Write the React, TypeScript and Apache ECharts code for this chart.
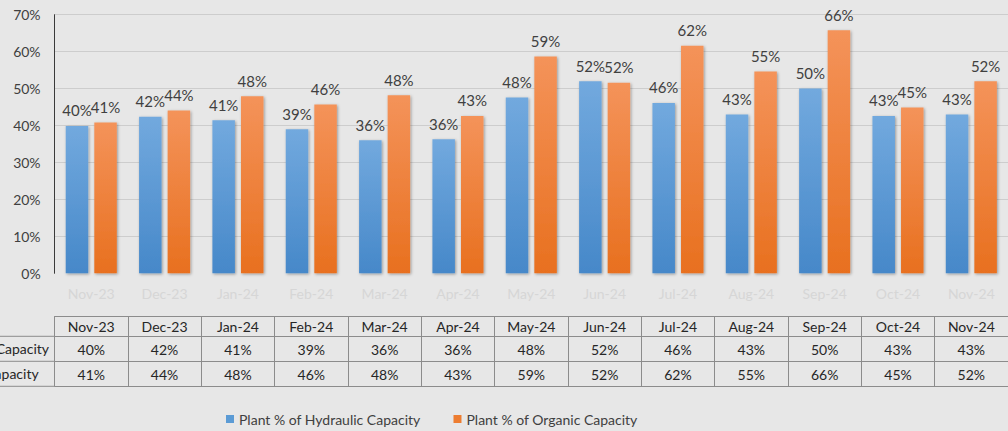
import React, { useEffect, useRef } from 'react';
import * as echarts from 'echarts';

const categories = ['Nov-23', 'Dec-23', 'Jan-24', 'Feb-24', 'Mar-24', 'Apr-24', 'May-24', 'Jun-24', 'Jul-24', 'Aug-24', 'Sep-24', 'Oct-24', 'Nov-24'];
const hydraulic = [39.9, 42.4, 41.4, 39.0, 36.0, 36.3, 47.6, 52.0, 46.1, 43.0, 50.0, 42.6, 43.0];
const organic = [40.8, 44.1, 47.9, 45.7, 48.2, 42.6, 58.7, 51.6, 61.6, 54.6, 65.8, 44.9, 52.0];
const seriesNames = ['Plant % of Hydraulic Capacity', 'Plant % of Organic Capacity'];
const yMin = 0;
const yMax = 70;
const yStep = 10;

const FONT = 'Lato, "Liberation Sans", sans-serif';
const GRID_LEFT = 54.6;
const GRID_TOP = 14.7;
const GRID_BOTTOM_Y = 273.3;
const GRID_W = 956.6;
const LINE = '#8c8c8c';

const pct = (v: number) => Math.round(v) + '%';

export default function App() {
  const ref = useRef<HTMLDivElement>(null);
  useEffect(() => {
    document.body.style.margin = '0';
    document.body.style.background = '#e7e7e7';
    const chart = echarts.init(ref.current!, null, { renderer: 'svg' });

    const tableAxis = (offset: number, tickLen: number, margin: number, values: number[] | null, showLabel = true, showTick = true) => ({
      type: 'category',
      data: categories,
      position: 'bottom',
      offset,
      gridIndex: 0,
      axisLine: { show: true, lineStyle: { color: LINE, width: 1 } },
      axisTick: { show: showTick, interval: 0, alignWithLabel: false, length: tickLen, lineStyle: { color: LINE, width: 1 } },
      axisLabel: {
        show: showLabel,
        interval: 0,
        margin,
        fontSize: 14,
        color: '#262626',
        fontFamily: FONT,
        formatter: (val: string, idx: number) => (values ? pct(values[idx]) : val),
      },
      splitLine: { show: false },
    });

    const measure = (t: string) => {
      const ctx = document.createElement('canvas').getContext('2d')!;
      ctx.font = `14px ${FONT}`;
      return ctx.measureText(t).width;
    };
    const w1 = measure(seriesNames[0]);
    const labelX = 49.3 - w1;

    const row1Y = GRID_BOTTOM_Y + 63;
    const row2Y = GRID_BOTTOM_Y + 88;
    const row3Y = GRID_BOTTOM_Y + 113;

    const grad = (top: string, bottom: string) =>
      new echarts.graphic.LinearGradient(0, 0, 0, 1, [
        { offset: 0, color: top },
        { offset: 1, color: bottom },
      ]);

    const barLabel = {
      show: true,
      position: 'top',
      distance: 8,
      fontSize: 15,
      color: '#404040',
      fontFamily: FONT,
      formatter: (p: any) => pct(p.value),
    };

    const option: any = {
      animation: false,
      backgroundColor: '#e7e7e7',
      textStyle: { fontFamily: FONT },
      grid: { left: GRID_LEFT, top: GRID_TOP, width: GRID_W, height: GRID_BOTTOM_Y - GRID_TOP },
      legend: {
        left: 221,
        top: 407,
        icon: 'rect',
        itemWidth: 8,
        itemHeight: 8,
        itemGap: 33,
        textStyle: { fontSize: 14, color: '#404040', fontFamily: FONT },
        data: [
          { name: seriesNames[0], itemStyle: { color: '#5b9bd5' } },
          { name: seriesNames[1], itemStyle: { color: '#ed7d31' } },
        ],
      },
      xAxis: [
        {
          type: 'category',
          data: categories,
          position: 'bottom',
          axisLine: { show: false },
          axisTick: { show: false },
          axisLabel: { interval: 0, margin: 13, fontSize: 14, color: '#d6d6d6', fontFamily: FONT },
        },
        tableAxis(43, 20, 3, null),
        tableAxis(63, 25, 6, hydraulic),
        tableAxis(88, 25, 6, organic),
        tableAxis(113, 0, 0, null, false, false),
      ],
      yAxis: {
        type: 'value',
        min: yMin,
        max: yMax,
        interval: yStep,
        axisLine: { show: true, lineStyle: { color: '#3a3a3a', width: 1 } },
        axisTick: { show: false },
        axisLabel: { formatter: '{value}%', fontSize: 14, color: '#404040', margin: 14, fontFamily: FONT },
        splitLine: { show: true, showMinLine: false, lineStyle: { color: '#cdcdcd', width: 1 } },
      },
      series: [
        {
          name: seriesNames[0],
          type: 'bar',
          data: hydraulic,
          barWidth: 22.5,
          barGap: '27%',
          itemStyle: {
            color: grad('#72a9de', '#4688c9'),
            shadowBlur: 3,
            shadowColor: 'rgba(0,0,0,0.35)',
            shadowOffsetX: 1,
            shadowOffsetY: 1,
          },
          label: barLabel,
        },
        {
          name: seriesNames[1],
          type: 'bar',
          data: organic,
          barWidth: 22.5,
          itemStyle: {
            color: grad('#f4935a', '#e8701f'),
            shadowBlur: 3,
            shadowColor: 'rgba(0,0,0,0.35)',
            shadowOffsetX: 1,
            shadowOffsetY: 1,
          },
          label: barLabel,
        },
      ],
      graphic: [
        { type: 'line', shape: { x1: 0, y1: row1Y, x2: GRID_LEFT, y2: row1Y }, style: { stroke: LINE, lineWidth: 1 } },
        { type: 'line', shape: { x1: 0, y1: row2Y, x2: GRID_LEFT, y2: row2Y }, style: { stroke: LINE, lineWidth: 1 } },
        { type: 'line', shape: { x1: 0, y1: row3Y, x2: GRID_LEFT, y2: row3Y }, style: { stroke: LINE, lineWidth: 1 } },
        {
          type: 'text',
          x: labelX,
          y: (row1Y + row2Y) / 2,
          style: { text: seriesNames[0], fontSize: 14, fill: '#262626', fontFamily: FONT, textAlign: 'left', textVerticalAlign: 'middle' },
        },
        {
          type: 'text',
          x: labelX,
          y: (row2Y + row3Y) / 2,
          style: { text: seriesNames[1], fontSize: 14, fill: '#262626', fontFamily: FONT, textAlign: 'left', textVerticalAlign: 'middle' },
        },
      ],
    };
    chart.setOption(option);
    return () => chart.dispose();
  }, []);

  return <div ref={ref} style={{ width: 1008, height: 431 }} />;
}
